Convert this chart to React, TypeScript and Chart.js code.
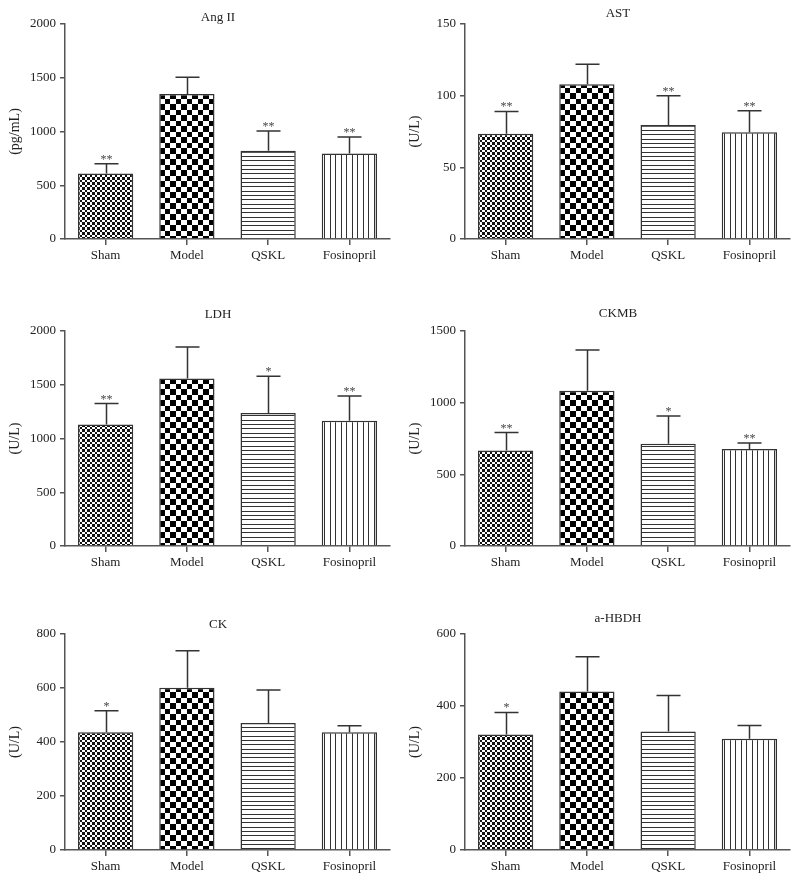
import React, { useEffect, useRef } from "react";
import { Chart, registerables } from "chart.js";

Chart.register(...registerables);

// ---------- data ----------
const categories = ["Sham", "Model", "QSKL", "Fosinopril"];

const angMeans = [610, 1350, 820, 795];
const angSD = [90, 155, 185, 155];
const angSig = ["**", "", "**", "**"];

const astMeans = [73.5, 108, 79.5, 74.5];
const astSD = [15.5, 14, 20.5, 15];
const astSig = ["**", "", "**", "**"];

const ldhMeans = [1130, 1557, 1238, 1164];
const ldhSD = [195, 294, 341, 232];
const ldhSig = ["**", "", "*", "**"];

const ckmbMeans = [667, 1084, 714, 677];
const ckmbSD = [124, 283, 193, 42];
const ckmbSig = ["**", "", "*", "**"];

const ckMeans = [436, 601, 470, 436];
const ckSD = [80, 137, 123, 24];
const ckSig = ["*", "", "", ""];

const hbdhMeans = [321, 440, 329, 309];
const hbdhSD = [61, 97, 100, 37];
const hbdhSig = ["*", "", "", ""];

const angTicks = [0, 500, 1000, 1500, 2000];
const astTicks = [0, 50, 100, 150];
const ldhTicks = [0, 500, 1000, 1500, 2000];
const ckmbTicks = [0, 500, 1000, 1500];
const ckTicks = [0, 200, 400, 600, 800];
const hbdhTicks = [0, 200, 400, 600];

// ---------- layout ----------
type Panel = {
  title: string;
  unit: string;
  means: number[];
  sd: number[];
  sig: string[];
  ticks: number[];
  left: number;
  top: number;
  height: number;
  titleY: number;
};

const panels: Panel[] = [
  { title: "Ang II", unit: "(pg/mL)", means: angMeans, sd: angSD, sig: angSig, ticks: angTicks, left: 0, top: 0, height: 269, titleY: 17.5 },
  { title: "AST", unit: "(U/L)", means: astMeans, sd: astSD, sig: astSig, ticks: astTicks, left: 400, top: 0, height: 269, titleY: 14 },
  { title: "LDH", unit: "(U/L)", means: ldhMeans, sd: ldhSD, sig: ldhSig, ticks: ldhTicks, left: 0, top: 307, height: 269, titleY: 7.5 },
  { title: "CKMB", unit: "(U/L)", means: ckmbMeans, sd: ckmbSD, sig: ckmbSig, ticks: ckmbTicks, left: 400, top: 307, height: 269, titleY: 7 },
  { title: "CK", unit: "(U/L)", means: ckMeans, sd: ckSD, sig: ckSig, ticks: ckTicks, left: 0, top: 610, height: 270, titleY: 15 },
  { title: "a-HBDH", unit: "(U/L)", means: hbdhMeans, sd: hbdhSD, sig: hbdhSig, ticks: hbdhTicks, left: 400, top: 610, height: 270, titleY: 9 },
];

const FONT = "'Liberation Serif', 'Times New Roman', serif";
const AXIS = "#555";
const INK = "#333";

// ---------- patterns ----------
function makePattern(kind: string): CanvasPattern | string {
  const c = document.createElement("canvas");
  const ctx = c.getContext("2d");
  if (!ctx) return "#fff";
  if (kind === "fine") {
    c.width = 10; c.height = 10;
    ctx.fillStyle = "#fff"; ctx.fillRect(0, 0, 10, 10);
    ctx.fillStyle = "#111";
    const edges = [0, 2, 5, 7, 10];
    for (let r = 0; r < 4; r++) {
      for (let q = 0; q < 4; q++) {
        if ((r + q) % 2 === 0) {
          ctx.fillRect(edges[q], edges[r], edges[q + 1] - edges[q], edges[r + 1] - edges[r]);
        }
      }
    }
  } else if (kind === "coarse") {
    c.width = 11; c.height = 11;
    ctx.fillStyle = "#fff"; ctx.fillRect(0, 0, 11, 11);
    ctx.fillStyle = "#000";
    ctx.fillRect(0, 0, 5, 5); ctx.fillRect(5, 5, 6, 6);
  } else if (kind === "hlines") {
    c.width = 4; c.height = 13;
    ctx.fillStyle = "#fff"; ctx.fillRect(0, 0, 4, 13);
    ctx.fillStyle = "#333";
    ctx.fillRect(0, 0, 4, 1); ctx.fillRect(0, 4, 4, 1); ctx.fillRect(0, 9, 4, 1);
  } else {
    c.width = 11; c.height = 4;
    ctx.fillStyle = "#fff"; ctx.fillRect(0, 0, 11, 4);
    ctx.fillStyle = "#333";
    ctx.fillRect(0, 0, 1, 4); ctx.fillRect(5, 0, 1, 4);
  }
  return ctx.createPattern(c, "repeat") || "#fff";
}

// ---------- plugins ----------
const errorBarsPlugin = {
  id: "errorBars",
  afterDatasetsDraw(chart: any, _args: any, opts: any) {
    const meta = chart.getDatasetMeta(0);
    const y = chart.scales.y;
    const ctx = chart.ctx;
    const vals = chart.data.datasets[0].data as number[];
    ctx.save();
    ctx.strokeStyle = INK;
    ctx.lineWidth = 1.5;
    meta.data.forEach((bar: any, i: number) => {
      const x = Math.round(bar.x) + 0.5;
      const base = y.getPixelForValue(vals[i]);
      const top = y.getPixelForValue(vals[i] + opts.sd[i]);
      ctx.beginPath();
      ctx.moveTo(x, base);
      ctx.lineTo(x, top);
      ctx.moveTo(x - 12, top);
      ctx.lineTo(x + 12, top);
      ctx.stroke();
      if (opts.sig[i]) {
        ctx.fillStyle = "#444";
        ctx.font = `12px ${FONT}`;
        ctx.textAlign = "center";
        ctx.textBaseline = "alphabetic";
        ctx.fillText(opts.sig[i], x, top - 1);
      }
    });
    ctx.restore();
  },
};

const panelTitlePlugin = {
  id: "panelTitle",
  afterDraw(chart: any, _args: any, opts: any) {
    const ctx = chart.ctx;
    ctx.save();
    ctx.fillStyle = "#222";
    ctx.font = `13px ${FONT}`;
    ctx.textAlign = "center";
    ctx.textBaseline = "middle";
    ctx.fillText(opts.text, opts.x, opts.y);
    ctx.restore();
  },
};

function BarPanel({ p }: { p: Panel }) {
  const ref = useRef<HTMLCanvasElement | null>(null);
  useEffect(() => {
    if (!ref.current) return;
    const fills = [makePattern("fine"), makePattern("coarse"), makePattern("hlines"), makePattern("vlines")];
    const max = p.ticks[p.ticks.length - 1];
    const step = p.ticks[1] - p.ticks[0];
    const chart = new Chart(ref.current, {
      type: "bar",
      data: {
        labels: categories,
        datasets: [
          {
            data: p.means,
            backgroundColor: fills as any,
            borderColor: INK,
            borderWidth: 1.5,
            barPercentage: 0.68,
            categoryPercentage: 1,
          },
        ],
      },
      options: {
        responsive: false,
        animation: false,
        events: [],
        layout: { padding: { top: 24, right: 9, bottom: 0, left: 0 } },
        plugins: {
          legend: { display: false },
          tooltip: { enabled: false },
          title: { display: false },
          errorBars: { sd: p.sd, sig: p.sig },
          panelTitle: { text: p.title, x: 218, y: p.titleY },
        } as any,
        scales: {
          x: {
            grid: { display: true, drawOnChartArea: false, drawTicks: true, tickLength: 6, offset: false, color: AXIS, lineWidth: 1.5 },
            border: { display: true, color: AXIS, width: 1.5 },
            ticks: { color: "#222", font: { family: FONT, size: 13 }, padding: 3, maxRotation: 0, autoSkip: false },
            afterFit: (s: any) => { s.height = 30; },
          },
          y: {
            min: 0,
            max: max,
            ticks: {
              stepSize: step,
              color: "#222",
              font: { family: FONT, size: 13 },
              padding: 4,
              callback: (v: any) => String(v),
            },
            grid: { display: true, drawOnChartArea: false, drawTicks: true, tickLength: 5, color: AXIS, lineWidth: 1.5 },
            border: { display: true, color: AXIS, width: 1.5 },
            title: { display: true, text: p.unit, color: "#222", font: { family: FONT, size: 14 }, padding: { top: 7, bottom: 0 } },
            afterFit: (s: any) => { s.width = 65; },
          },
        },
      },
      plugins: [errorBarsPlugin, panelTitlePlugin],
    });
    return () => chart.destroy();
  }, [p]);
  return (
    <canvas
      ref={ref}
      width={399}
      height={p.height}
      style={{ position: "absolute", left: p.left, top: p.top, width: 399, height: p.height, display: "block" }}
    />
  );
}

export default function App() {
  return (
    <div style={{ position: "absolute", left: 0, top: 0, width: 799, height: 883, background: "#fff", overflow: "hidden" }}>
      {panels.map((p) => (
        <BarPanel key={p.title} p={p} />
      ))}
    </div>
  );
}
